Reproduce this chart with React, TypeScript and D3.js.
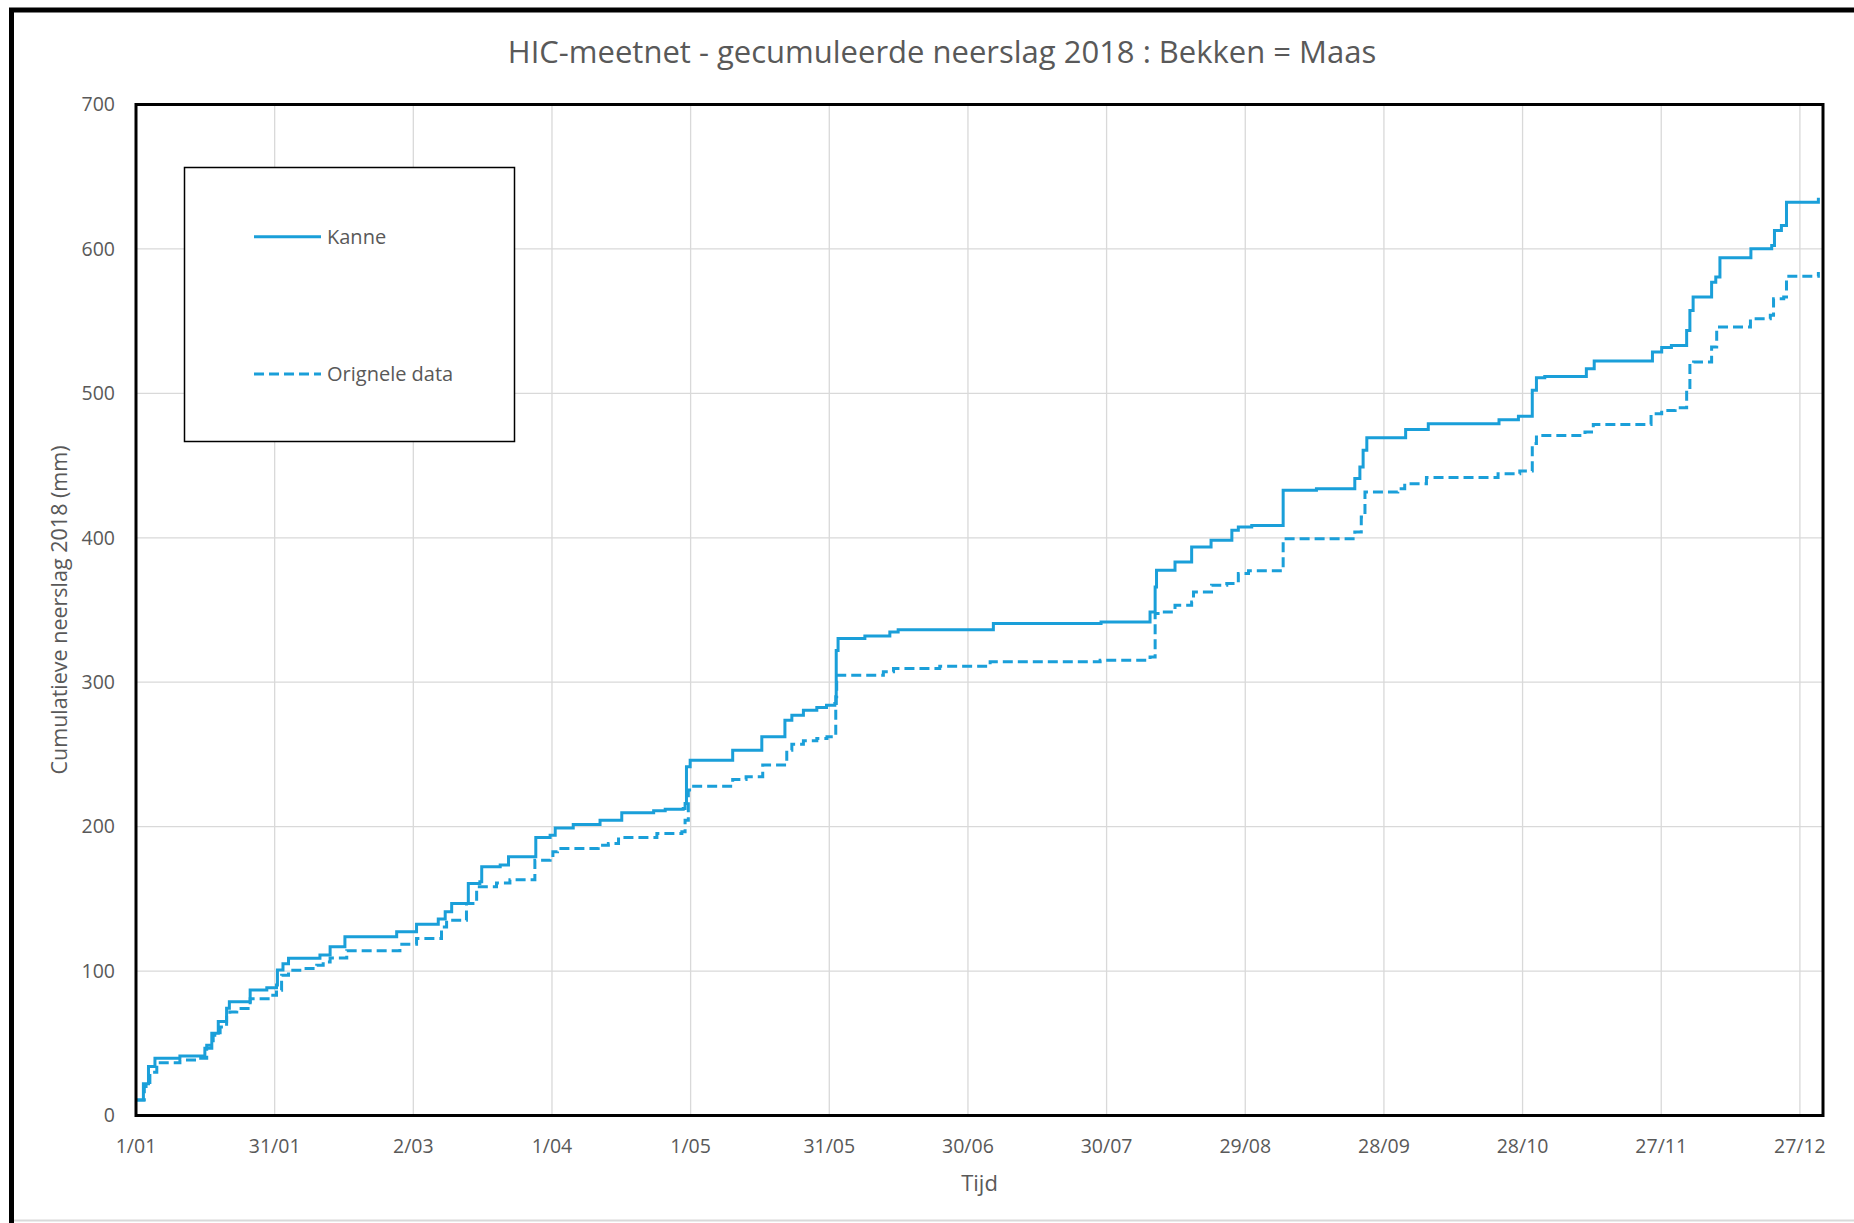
import React from 'react';
import * as d3 from 'd3';

const titleText = 'HIC-meetnet - gecumuleerde neerslag 2018 : Bekken = Maas';
const yAxisTitle = 'Cumulatieve neerslag 2018 (mm)';
const xAxisTitle = 'Tijd';
const seriesNames = ['Kanne', 'Orignele data'];

const tickLabels = ['1/01', '31/01', '2/03', '1/04', '1/05', '31/05', '30/06', '30/07', '29/08', '28/09', '28/10', '27/11', '27/12'];
const tickDays = [0, 30, 60, 90, 120, 150, 180, 210, 240, 270, 300, 330, 360];
const yTicks = [0, 100, 200, 300, 400, 500, 600, 700];

// day offset since 1 Jan 2018 (step change points) and cumulative value (mm)
const kanneDays = [0, 1.6, 2.7, 4.1, 9.5, 14.9, 16.4, 17.8, 19.6, 20.2, 24.7, 28.3, 30.4, 30.6, 31.8, 33, 39.8, 42, 45.2, 56.4, 60.7, 65.4, 66.9, 68.3, 71.9, 74.4, 74.8, 78.8, 80.6, 86.5, 89.6, 90.7, 94.6, 100.4, 105.1, 112, 114.5, 118.4, 118.8, 119.1, 119.9, 129.1, 135.4, 140.4, 141.9, 144.4, 147.3, 149.4, 151.2, 151.5, 151.9, 157.7, 163.1, 164.9, 185.5, 208.8, 219.4, 220.5, 220.8, 224.8, 228.4, 232.6, 237.1, 238.5, 241.4, 248.2, 255.4, 263.7, 264.8, 265.5, 266.3, 274.7, 279.6, 294.9, 299.1, 302.1, 303, 304.8, 313.8, 315.5, 328.1, 330.1, 332.2, 335.5, 336.2, 336.9, 340.9, 341.8, 342.7, 349.4, 353.9, 354.5, 356, 357.1, 364];
const kanneValues = [10.7, 22, 34, 39.6, 41.2, 46.5, 57, 65, 74.2, 78.8, 86.9, 88.5, 90.3, 100.7, 105, 108.8, 111.1, 116.8, 123.8, 127.2, 132.5, 136, 141, 146.8, 160.7, 161.8, 172.2, 173.4, 179.1, 192.5, 194.1, 199, 201.5, 204.5, 209.6, 211, 212.1, 212.6, 216, 241.4, 246, 252.9, 262.2, 273.7, 277.2, 280.6, 282.5, 284.1, 285.2, 322, 330.2, 332, 334.8, 336.4, 340.6, 341.7, 348.7, 366, 377.5, 383.3, 393.6, 398.3, 405.2, 407.4, 408.5, 432.9, 434, 441, 449, 460.6, 469.3, 475, 479, 481.8, 484.1, 502.1, 510.8, 511.7, 517.1, 522.4, 528.6, 531.7, 533.2, 543.6, 557.4, 566.7, 577, 580.5, 593.9, 600.1, 602.4, 612.8, 616.3, 632.4, 635.4];

const origDays = [0, 1.8, 3, 4.5, 9.5, 14, 15.3, 16.7, 18.2, 19.6, 20.3, 21.8, 24.7, 29, 30.4, 31.5, 33, 36.2, 39.1, 40.5, 42, 45.6, 57.1, 60.7, 66.1, 67.2, 71.5, 73.7, 78, 80.9, 86.3, 89.6, 90.2, 91.2, 100, 102.2, 104.4, 112.7, 118.1, 118.8, 119.5, 120.2, 129.1, 132, 135.6, 140.8, 141.9, 144.4, 147.3, 149.5, 151.4, 151.6, 161.7, 163.9, 173.9, 184.8, 208.6, 219.4, 220.5, 221.5, 224.8, 228.4, 228.8, 232.7, 236, 238.5, 240.7, 248.2, 263.7, 265.1, 265.9, 273, 274.5, 279.2, 294.7, 299.4, 302.1, 303, 313.5, 315.3, 327.8, 330.1, 333, 335.5, 336.2, 337, 340.9, 342, 349.3, 353.6, 354.3, 356.5, 357.1, 364];
const origValues = [10.7, 20, 30, 36.5, 38.4, 39.6, 48.6, 55.5, 61.3, 69.4, 71.7, 74, 80.9, 83.2, 86.7, 97.1, 100.5, 101.7, 104, 106.3, 109.1, 114.1, 118.5, 122.6, 130.6, 135.2, 146.8, 158.3, 161, 163.3, 176.8, 179, 182.6, 184.9, 187.2, 188.3, 192.5, 195.3, 196.4, 204.5, 225.3, 228, 232.7, 234.5, 242.6, 252.9, 257.1, 259.4, 261.1, 262.2, 290, 304.8, 307.2, 309.5, 311.1, 314.1, 315.2, 317.5, 347.5, 348.7, 353.3, 355.6, 362.5, 367.1, 368.3, 375.2, 377.1, 399.4, 404, 414.4, 431.7, 434, 437.5, 441.7, 444.4, 446.3, 465.2, 470.9, 473.2, 478.5, 485.9, 488.2, 490, 502.1, 520.5, 521.7, 532.1, 545.9, 551.7, 554, 565.5, 566.7, 581, 584];

const LINE_COLOR = '#1a9fd9';
const TEXT_COLOR = '#595959';
const FONT = '"Open Sans", sans-serif';

export default function App() {
  const W = 1854;
  const H = 1223;
  const x = d3.scaleLinear().domain([0, 365]).range([136, 1823]);
  const y = d3.scaleLinear().domain([0, 700]).range([1115.5, 104.5]);
  const line = d3
    .line<[number, number]>()
    .x((d) => x(d[0]))
    .y((d) => y(d[1]))
    .curve(d3.curveStepAfter);

  const kanne: [number, number][] = kanneDays.map((d, i) => [d, kanneValues[i]]);
  const orig: [number, number][] = origDays.map((d, i) => [d, origValues[i]]);

  const [x0, x1] = x.range();
  const [y0, y1] = y.range();

  const legendX = 184.5;
  const legendY = 167.5;
  const legendW = 330;
  const legendH = 274;
  const legendRows = [236.7, 374];

  return (
    <svg
      width={W}
      height={H}
      style={{ position: 'absolute', left: 0, top: 0, background: '#fff' }}
      fontFamily={FONT}
    >
      <rect x={0} y={0} width={W} height={H} fill="#fff" />
      {/* outer frame */}
      <line x1={9} y1={10} x2={W} y2={10} stroke="#000" strokeWidth={5} />
      <line x1={11.5} y1={8} x2={11.5} y2={H} stroke="#000" strokeWidth={5} />
      <line x1={14} y1={1220.5} x2={W} y2={1220.5} stroke="#d9d9d9" strokeWidth={2} />

      {/* title */}
      <text x={942} y={63} textAnchor="middle" fontSize={31} fill={TEXT_COLOR}>
        {titleText}
      </text>

      {/* gridlines */}
      {yTicks.slice(1, -1).map((t) => (
        <line key={'gy' + t} x1={x0} x2={x1} y1={y(t)} y2={y(t)} stroke="#d9d9d9" strokeWidth={1.3} />
      ))}
      {tickDays.slice(1).map((d) => (
        <line key={'gx' + d} x1={x(d)} x2={x(d)} y1={y0} y2={y1} stroke="#d9d9d9" strokeWidth={1.3} />
      ))}

      {/* series */}
      <path d={line(orig) || ''} fill="none" stroke={LINE_COLOR} strokeWidth={3} strokeDasharray="10 5" />
      <path d={line(kanne) || ''} fill="none" stroke={LINE_COLOR} strokeWidth={3} />

      {/* plot border */}
      <rect x={x0} y={y1} width={x1 - x0} height={y0 - y1} fill="none" stroke="#000" strokeWidth={3} />

      {/* y ticks */}
      {yTicks.map((t) => (
        <text key={'yt' + t} x={115} y={y(t)} dy="0.35em" textAnchor="end" fontSize={19.5} fill={TEXT_COLOR}>
          {t}
        </text>
      ))}
      {/* x ticks */}
      {tickDays.map((d, i) => (
        <text key={'xt' + d} x={x(d)} y={1153} textAnchor="middle" fontSize={19.5} fill={TEXT_COLOR}>
          {tickLabels[i]}
        </text>
      ))}

      {/* axis titles */}
      <text
        transform={`translate(59, ${(y0 + y1) / 2}) rotate(-90)`}
        textAnchor="middle"
        dy="0.35em"
        fontSize={21.5}
        fill={TEXT_COLOR}
      >
        {yAxisTitle}
      </text>
      <text x={(x0 + x1) / 2} y={1191} textAnchor="middle" fontSize={22} fill={TEXT_COLOR}>
        {xAxisTitle}
      </text>

      {/* legend */}
      <rect x={legendX} y={legendY} width={legendW} height={legendH} fill="#fff" stroke="#000" strokeWidth={1.5} />
      {seriesNames.map((name, i) => (
        <g key={name}>
          <line
            x1={254}
            x2={321}
            y1={legendRows[i]}
            y2={legendRows[i]}
            stroke={LINE_COLOR}
            strokeWidth={3}
            strokeDasharray={i === 1 ? '10 5' : undefined}
          />
          <text x={327} y={legendRows[i] + 7} fontSize={20} fill={TEXT_COLOR}>
            {name}
          </text>
        </g>
      ))}
    </svg>
  );
}
